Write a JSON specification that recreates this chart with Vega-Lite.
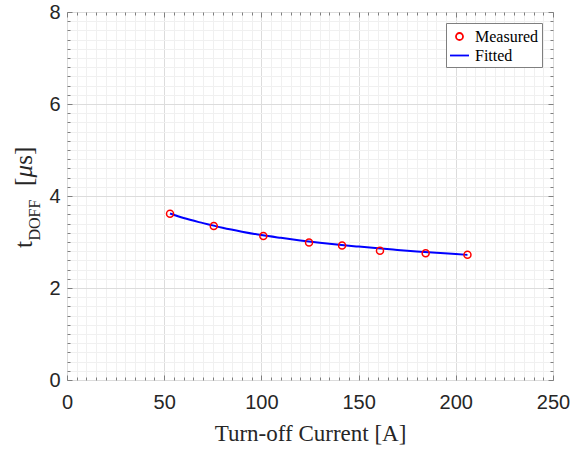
{
  "$schema": "https://vega.github.io/schema/vega-lite/v6.json",
  "width": 486,
  "height": 368,
  "autosize": "none",
  "padding": {"left": 67, "top": 12, "right": 21, "bottom": 70},
  "background": "white",
  "config": {
    "view": {"stroke": "#7f7f7f", "strokeWidth": 1},
    "font": "Liberation Sans"
  },
  "datasets": {
    "measured": [
      {"current": 53, "t": 3.615, "series": "Measured"},
      {"current": 75.5, "t": 3.35, "series": "Measured"},
      {"current": 101, "t": 3.13, "series": "Measured"},
      {"current": 124.5, "t": 2.99, "series": "Measured"},
      {"current": 141.5, "t": 2.925, "series": "Measured"},
      {"current": 161, "t": 2.81, "series": "Measured"},
      {"current": 184.5, "t": 2.755, "series": "Measured"},
      {"current": 206, "t": 2.725, "series": "Measured"}
    ],
    "fitted": [
      {"current": 53, "t": 3.62, "series": "Fitted"},
      {"current": 60, "t": 3.52, "series": "Fitted"},
      {"current": 70, "t": 3.41, "series": "Fitted"},
      {"current": 80, "t": 3.31, "series": "Fitted"},
      {"current": 90, "t": 3.225, "series": "Fitted"},
      {"current": 100, "t": 3.15, "series": "Fitted"},
      {"current": 110, "t": 3.09, "series": "Fitted"},
      {"current": 120, "t": 3.035, "series": "Fitted"},
      {"current": 130, "t": 2.985, "series": "Fitted"},
      {"current": 140, "t": 2.94, "series": "Fitted"},
      {"current": 150, "t": 2.9, "series": "Fitted"},
      {"current": 160, "t": 2.862, "series": "Fitted"},
      {"current": 170, "t": 2.828, "series": "Fitted"},
      {"current": 180, "t": 2.795, "series": "Fitted"},
      {"current": 190, "t": 2.765, "series": "Fitted"},
      {"current": 200, "t": 2.737, "series": "Fitted"},
      {"current": 206, "t": 2.72, "series": "Fitted"}
    ],
    "one": [{}]
  },
  "resolve": {"axis": {"x": "independent", "y": "independent"}},
  "layer": [
    {
      "data": {"name": "fitted"},
      "mark": {"type": "line", "strokeWidth": 2, "interpolate": "monotone", "clip": false},
      "encoding": {
        "x": {
          "field": "current", "type": "quantitative",
          "scale": {"domain": [0, 250], "nice": false, "zero": false},
          "axis": {
            "orient": "bottom",
            "values": [0,5,10,15,20,25,30,35,40,45,50,55,60,65,70,75,80,85,90,95,100,105,110,115,120,125,130,135,140,145,150,155,160,165,170,175,180,185,190,195,200,205,210,215,220,225,230,235,240,245,250],
            "grid": true,
            "gridColor": {"condition": {"test": "datum.value % 50 === 0", "value": "#dcdcdc"}, "value": "#f0f0f0"},
            "gridWidth": 1,
            "ticks": true,
            "tickColor": "#7f7f7f",
            "tickSize": {"condition": {"test": "datum.value % 50 === 0", "value": -5}, "value": -3},
            "labelExpr": "datum.value % 50 === 0 ? format(datum.value, 'd') : ''",
            "labelFont": "Liberation Sans",
            "labelFontSize": 20,
            "labelColor": "#262626",
            "labelPadding": 17,
            "labelFlush": false,
            "labelOverlap": false,
            "domain": false,
            "title": "Turn-off Current [A]",
            "titleFont": "Liberation Serif",
            "titleFontSize": 23,
            "titleFontWeight": "normal",
            "titleColor": "#262626",
            "titlePadding": 8
          }
        },
        "y": {
          "field": "t", "type": "quantitative",
          "scale": {"domain": [0, 8], "nice": false, "zero": false},
          "axis": {
            "orient": "left",
            "values": [0,0.2,0.4,0.6,0.8,1,1.2,1.4,1.6,1.8,2,2.2,2.4,2.6,2.8,3,3.2,3.4,3.6,3.8,4,4.2,4.4,4.6,4.8,5,5.2,5.4,5.6,5.8,6,6.2,6.4,6.6,6.8,7,7.2,7.4,7.6,7.8,8],
            "grid": true,
            "gridColor": {"condition": {"test": "datum.value % 2 === 0", "value": "#dcdcdc"}, "value": "#f0f0f0"},
            "gridWidth": 1,
            "ticks": true,
            "tickColor": "#7f7f7f",
            "tickSize": {"condition": {"test": "datum.value % 2 === 0", "value": -5}, "value": -3},
            "labelExpr": "datum.value % 2 === 0 ? format(datum.value, 'd') : ''",
            "labelFont": "Liberation Sans",
            "labelFontSize": 20,
            "labelColor": "#262626",
            "labelPadding": 12,
            "labelFlush": false,
            "labelOverlap": false,
            "domain": false,
            "title": null
          }
        },
        "color": {
          "field": "series", "type": "nominal",
          "scale": {"domain": ["Measured", "Fitted"], "range": ["#ff0000", "#0000ff"]},
          "legend": {
            "orient": "top-right",
            "offset": 11,
            "title": null,
            "labelFont": "Liberation Serif",
            "labelFontSize": 16,
            "labelColor": "#000000",
            "labelOffset": 5,
            "symbolSize": 360,
            "symbolStrokeWidth": 1.8,
            "strokeColor": "#7f7f7f",
            "fillColor": "#ffffff",
            "padding": 3,
            "rowPadding": 0
          }
        }
      }
    },
    {
      "data": {"name": "measured"},
      "mark": {"type": "point", "filled": false, "size": 360, "strokeWidth": 1.5, "opacity": 1, "clip": false},
      "encoding": {
        "x": {
          "field": "current", "type": "quantitative",
          "scale": {"domain": [0, 250], "nice": false, "zero": false},
          "axis": {
            "orient": "top",
            "values": [0,5,10,15,20,25,30,35,40,45,50,55,60,65,70,75,80,85,90,95,100,105,110,115,120,125,130,135,140,145,150,155,160,165,170,175,180,185,190,195,200,205,210,215,220,225,230,235,240,245,250],
            "grid": false,
            "ticks": true,
            "tickColor": "#7f7f7f",
            "tickSize": {"condition": {"test": "datum.value % 50 === 0", "value": -5}, "value": -3},
            "labels": false,
            "domain": false,
            "title": null
          }
        },
        "y": {
          "field": "t", "type": "quantitative",
          "scale": {"domain": [0, 8], "nice": false, "zero": false},
          "axis": {
            "orient": "right",
            "values": [0,0.2,0.4,0.6,0.8,1,1.2,1.4,1.6,1.8,2,2.2,2.4,2.6,2.8,3,3.2,3.4,3.6,3.8,4,4.2,4.4,4.6,4.8,5,5.2,5.4,5.6,5.8,6,6.2,6.4,6.6,6.8,7,7.2,7.4,7.6,7.8,8],
            "grid": false,
            "ticks": true,
            "tickColor": "#7f7f7f",
            "tickSize": {"condition": {"test": "datum.value % 2 === 0", "value": -5}, "value": -3},
            "labels": false,
            "domain": false,
            "title": null
          }
        },
        "color": {
          "field": "series", "type": "nominal",
          "scale": {"domain": ["Measured", "Fitted"], "range": ["#ff0000", "#0000ff"]}
        },
        "shape": {
          "field": "series", "type": "nominal",
          "scale": {"domain": ["Measured", "Fitted"], "range": ["M-0.37,0A0.37,0.37,0,1,1,0.37,0A0.37,0.37,0,1,1,-0.37,0Z", "M-1,0H1"]}
        }
      }
    },
    {
      "data": {"name": "one"},
      "mark": {"type": "text", "angle": 270, "align": "left", "baseline": "alphabetic", "font": "Liberation Serif", "fontSize": 25, "color": "#262626"},
      "encoding": {
        "x": {"datum": -18, "type": "quantitative", "scale": {"domain": [0, 250], "nice": false, "zero": false}, "axis": null},
        "y": {"datum": 2.87, "type": "quantitative", "scale": {"domain": [0, 8], "nice": false, "zero": false}, "axis": null},
        "text": {"value": "t"}
      }
    },
    {
      "data": {"name": "one"},
      "mark": {"type": "text", "angle": 270, "align": "left", "baseline": "alphabetic", "font": "Liberation Serif", "fontSize": 16, "color": "#262626"},
      "encoding": {
        "x": {"datum": -13.9, "type": "quantitative", "scale": {"domain": [0, 250], "nice": false, "zero": false}, "axis": null},
        "y": {"datum": 3.03, "type": "quantitative", "scale": {"domain": [0, 8], "nice": false, "zero": false}, "axis": null},
        "text": {"value": "DOFF"}
      }
    },
    {
      "data": {"name": "one"},
      "mark": {"type": "text", "angle": 270, "align": "left", "baseline": "alphabetic", "font": "Liberation Serif", "fontSize": 25, "color": "#262626"},
      "encoding": {
        "x": {"datum": -18, "type": "quantitative", "scale": {"domain": [0, 250], "nice": false, "zero": false}, "axis": null},
        "y": {"datum": 4.22, "type": "quantitative", "scale": {"domain": [0, 8], "nice": false, "zero": false}, "axis": null},
        "text": {"value": "["}
      }
    },
    {
      "data": {"name": "one"},
      "mark": {"type": "text", "angle": 270, "align": "left", "baseline": "alphabetic", "font": "Liberation Serif", "fontSize": 25, "fontStyle": "italic", "color": "#262626"},
      "encoding": {
        "x": {"datum": -18, "type": "quantitative", "scale": {"domain": [0, 250], "nice": false, "zero": false}, "axis": null},
        "y": {"datum": 4.40, "type": "quantitative", "scale": {"domain": [0, 8], "nice": false, "zero": false}, "axis": null},
        "text": {"value": "μ"}
      }
    },
    {
      "data": {"name": "one"},
      "mark": {"type": "text", "angle": 270, "align": "left", "baseline": "alphabetic", "font": "Liberation Serif", "fontSize": 25, "color": "#262626"},
      "encoding": {
        "x": {"datum": -18, "type": "quantitative", "scale": {"domain": [0, 250], "nice": false, "zero": false}, "axis": null},
        "y": {"datum": 4.68, "type": "quantitative", "scale": {"domain": [0, 8], "nice": false, "zero": false}, "axis": null},
        "text": {"value": "s]"}
      }
    }
  ]
}
